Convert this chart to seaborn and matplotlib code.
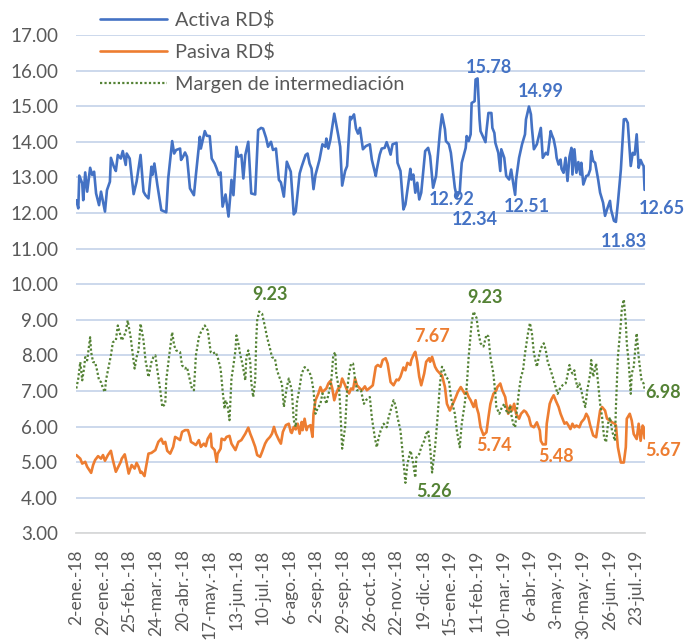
import matplotlib
matplotlib.use("Agg")
import matplotlib.pyplot as plt
import seaborn as sns

sns.set_style("white")
plt.rcParams['font.family'] = ['Lato', 'DejaVu Sans']

# ---- data (x = days since 2-ene-2018) ----
activa_dias = [
    0, 2, 3, 6, 7, 9, 11, 14, 16, 18,
    20, 23, 25, 29, 31, 34, 35, 38, 40, 42,
    45, 47, 50, 51, 54, 58, 61, 65, 68, 70,
    73, 76, 77, 79, 82, 86, 91, 93, 97, 99,
    101, 105, 106, 108, 110, 112, 115, 119, 121, 125,
    126, 130, 132, 135, 137, 140, 142, 144, 146, 148,
    151, 154, 156, 157, 159, 162, 164, 167, 169, 171,
    174, 177, 181, 184, 187, 189, 192, 194, 197, 199,
    202, 205, 207, 210, 213, 217, 220, 222, 226, 228,
    232, 234, 236, 238, 240, 242, 246, 249, 252, 253,
    255, 257, 261, 265, 267, 269, 272, 274, 277, 278,
    281, 283, 285,
    287, 290, 293, 297, 299, 303, 304, 307, 309, 312,
    314, 316, 318, 320, 324, 325, 328, 331, 333, 336,
    338, 339, 341, 343, 345, 347, 349, 353, 356, 358,
    361, 364, 368, 370, 373, 374, 377, 379, 383, 385,
    388, 389, 390, 394, 395, 397, 399, 400, 403, 404,
    406, 408, 409, 414, 415, 417, 420, 421, 423, 424,
    427, 429, 430, 433, 435, 438, 440, 442, 444, 445,
    448, 451, 454, 455, 458, 460, 461, 463, 466, 468,
    470, 472, 475, 477, 480, 481, 483, 485, 486, 488,
    490, 491, 493, 495, 497, 499, 501, 502, 504, 506,
    508, 510, 511, 513, 516, 518, 520, 521, 523, 525,
    528, 530, 533, 535, 537, 540, 541, 544, 546, 548,
    551, 554, 556, 558, 561, 563, 565, 567, 569, 571,
    573, 574, 575,
]
activa_valores = [
    12.36, 12.13, 13.05, 12.83, 12.36, 13.14, 12.60, 13.27, 13.07, 13.16,
    12.55, 12.22, 12.60, 12.04, 12.64, 12.88, 13.55, 13.30, 13.18, 13.63,
    13.53, 13.74, 13.35, 13.67, 13.53, 12.53, 12.88, 13.63, 12.60, 12.50,
    12.41, 13.30, 13.07, 13.39, 12.79, 12.08, 12.02, 12.97, 14.02, 13.67,
    13.77, 13.81, 13.49, 13.58, 13.70, 13.58, 12.69, 12.50, 13.07, 14.14,
    13.81, 14.30, 14.17, 14.16, 13.53, 13.39, 13.25, 13.07, 13.14, 12.18,
    12.52, 11.90, 12.55, 12.93, 12.50, 13.86, 13.58, 13.63, 12.97, 13.63,
    14.00, 12.55, 12.52, 14.33, 14.39, 14.37, 14.11, 13.86, 14.00, 13.77,
    13.81, 12.93, 12.86, 12.46, 13.44, 13.16, 11.96, 12.04, 13.11, 13.30,
    13.63, 13.67, 13.39, 13.25, 12.67, 13.07, 13.49, 13.93, 13.86, 14.09,
    13.81, 14.05, 14.79, 14.19, 13.86, 12.77, 13.18, 13.32, 14.70, 14.63,
    14.77, 14.37, 14.23,
    14.39, 13.79, 13.88, 13.93, 13.50, 13.04, 13.22, 13.64, 13.81, 13.83,
    13.99, 13.83, 13.64, 13.93, 13.97, 13.41, 13.18, 12.10, 12.24, 12.85,
    13.24, 12.94, 13.08, 12.57, 12.85, 12.38, 12.57, 13.74, 13.83, 13.60,
    12.71, 13.04, 14.30, 14.77, 14.35, 14.02, 13.93, 13.69, 12.71, 12.45,
    12.60, 13.04, 13.41, 13.83, 14.16, 14.02, 14.21, 15.09, 15.14, 15.75,
    15.78, 14.63, 14.30, 13.99, 14.30, 14.81, 14.81, 14.39, 14.25, 13.97,
    13.69, 13.18, 13.79, 13.55, 13.04, 12.94, 13.22, 12.85, 12.51, 12.94,
    13.55, 13.93, 14.21, 14.63, 14.99, 14.77, 14.39, 13.79, 13.93, 14.16,
    14.39, 13.55, 13.69, 13.64, 14.30, 14.21, 14.07, 13.79, 13.55, 13.36,
    13.50, 13.24, 13.13, 13.55, 12.90, 13.58, 13.83, 13.08, 13.79, 13.13,
    13.43, 13.08, 13.41, 12.80, 13.04, 13.06, 13.22, 13.74, 13.46, 13.41,
    12.94, 12.57, 12.29, 11.92, 12.10, 12.34, 12.10, 11.78, 11.75, 12.29,
    13.22, 14.63, 14.64, 14.53, 13.32, 13.69, 13.64, 14.21, 13.27, 13.49,
    13.36, 13.32, 12.65,
]

pasiva_dias = [
    0, 4, 6, 9, 11, 15, 17, 19, 22, 25,
    27, 29, 32, 35, 37, 40, 45, 46, 49, 51,
    53, 56, 59, 61, 63, 65, 66, 69, 70, 73,
    76, 80, 83, 86, 88, 90, 92, 95, 98, 100,
    103, 105, 107, 110, 113, 115, 116, 119, 121, 124,
    126, 129, 131, 133, 136, 137, 140, 142, 143, 146,
    147, 150, 152, 155, 157, 159, 161, 164, 167, 169,
    171, 174, 176, 178, 181, 183, 186, 188, 191, 193,
    196, 198, 200, 202, 205, 207, 209, 212, 215, 217,
    218, 220, 222, 224, 226, 228, 229, 231, 233, 234,
    237, 239, 240, 242, 245, 247, 249, 251, 253, 255,
    257, 259, 261, 263, 265, 267, 269, 272, 274, 276,
    278, 280, 282, 284,
    287, 289, 292, 294, 298, 300, 303, 305, 308, 310,
    313, 315, 318, 321, 324, 326, 328, 331, 333, 335,
    338, 339, 342, 343, 345, 347, 349, 352, 354, 357,
    358, 360, 363, 365, 368, 370, 373, 375, 378, 381,
    384, 386, 389, 391, 393, 395, 397, 399, 402, 404,
    405, 407, 409, 412, 415, 417, 419, 422, 425, 426,
    429, 431, 434, 435, 437, 439, 441, 443, 445, 448,
    450, 453, 455, 458, 460, 463, 466, 469, 470, 472,
    475, 476, 479, 481, 483, 485, 488, 490, 492, 494,
    496, 498, 500, 502, 504, 506, 509, 511, 514, 516,
    518, 520, 523, 526, 528, 530, 532, 535, 537, 540,
    542, 545, 546, 548, 551, 554, 556, 557, 560, 562,
    564, 567, 569, 571, 573, 574, 575,
]
pasiva_valores = [
    5.20, 5.10, 4.96, 5.01, 4.87, 4.70, 4.92, 5.06, 5.17, 5.10,
    5.20, 5.04, 5.20, 5.32, 5.06, 4.73, 5.01, 5.10, 5.22, 4.96,
    4.68, 4.92, 4.82, 4.98, 4.87, 4.70, 4.73, 4.61, 4.78, 5.24,
    5.26, 5.34, 5.57, 5.66, 5.52, 5.57, 5.32, 5.24, 5.43, 5.71,
    5.66, 5.62, 5.85, 5.90, 5.90, 5.71, 5.57, 5.52, 5.48, 5.62,
    5.43, 5.52, 5.45, 5.66, 5.80, 5.43, 5.34, 5.01, 5.24, 5.38,
    5.66, 5.62, 5.71, 5.74, 5.52, 5.43, 5.34, 5.57, 5.62, 5.71,
    5.80, 5.97, 5.80, 5.66, 5.43, 5.20, 5.15, 5.29, 5.52, 5.62,
    5.71, 5.80, 5.99, 5.80, 5.62, 5.52, 5.85, 6.04, 6.08, 5.85,
    5.82, 5.99, 5.92, 6.08, 5.80, 6.13, 5.90, 6.22, 5.90, 5.99,
    6.04, 5.71, 6.36, 6.74, 6.93, 7.11, 6.97, 7.02, 7.07, 7.21,
    7.28, 7.07, 6.74, 6.93, 7.07, 7.11, 7.35, 7.16, 7.02, 6.93,
    7.07, 7.04, 7.35, 7.16,
    7.07, 7.02, 7.13, 7.02, 7.11, 7.16, 7.68, 7.73, 7.68, 7.87,
    7.92, 7.77, 7.25, 7.16, 7.32, 7.30, 7.40, 7.66, 7.58, 7.79,
    7.73, 7.87, 8.06, 8.10, 7.82, 7.40, 7.16, 7.49, 7.82, 7.92,
    7.82, 7.96, 7.68, 7.58, 7.49, 7.44, 7.11, 6.64, 6.45, 6.64,
    6.83, 6.97, 7.11, 7.02, 6.92, 6.97, 6.83, 6.74, 6.55, 6.74,
    6.55, 6.36, 5.98, 5.76, 5.84, 6.26, 6.64, 6.92, 7.02, 7.11,
    7.21, 7.02, 6.83, 6.64, 6.36, 6.59, 6.45, 6.64, 6.36, 6.22,
    6.36, 6.45, 6.41, 6.26, 6.03, 5.98, 6.12, 5.89, 5.60, 5.50,
    5.50, 6.08, 6.64, 6.78, 6.88, 6.74, 6.55, 6.36, 6.22, 6.08,
    6.12, 6.03, 5.93, 6.08, 5.98, 6.03, 5.98, 6.12, 6.22, 6.36,
    6.26, 6.03, 5.75, 5.70, 6.08, 6.45, 6.55, 6.45, 6.22, 6.17,
    6.12, 6.08, 6.03, 5.42, 4.99, 4.99, 5.42, 6.22, 6.36, 6.17,
    5.79, 5.65, 6.08, 5.60, 6.03, 5.98, 5.67,
]

margen_dias = [
    0, 2, 4, 6, 8, 9, 11, 14, 15, 17,
    19, 21, 23, 25, 27, 29, 30, 32, 35, 37,
    40, 42, 46, 50, 52, 55, 57, 59, 61, 63,
    65, 68, 70, 71, 73, 76, 78, 80, 82, 85,
    87, 90, 91, 94, 97, 99, 101, 105, 107, 110,
    112, 115, 117, 119, 121, 124, 126, 130, 133, 136,
    138, 141, 143, 146, 148, 150, 151, 153, 155, 157,
    159, 161, 162, 164, 166, 168, 171, 172, 174, 176,
    177, 179, 181, 182, 183, 185, 188, 191, 193, 196,
    198, 201, 203, 206, 208, 210, 213, 215, 218, 220,
    222, 223, 226, 228, 231, 233, 236, 238, 240, 242,
    244, 247, 249, 251, 253, 256, 258, 260, 262, 263,
    266, 267, 269, 272, 274, 276, 278, 280, 282, 284,
    288, 291, 293, 297, 299, 302, 304, 306, 308, 311,
    314, 316, 318, 321, 323, 325, 328, 330, 332, 333,
    335, 338, 339, 341, 343, 344, 347, 349, 352, 354,
    356, 358, 360, 363, 365, 368, 370, 372, 374, 377,
    379, 383, 385, 388, 390, 393, 395, 397, 400, 402,
    405, 407, 409, 412, 415, 417, 419, 422, 424, 425,
    428, 430, 433, 435, 437, 439, 440, 442, 444, 445,
    448, 450, 452, 454, 457, 459, 461, 463, 466, 468,
    470, 473, 475, 477, 480, 482, 485, 487, 490, 492,
    495, 496, 499, 500, 502, 504, 505, 507, 509, 511,
    513, 515, 517, 520, 521, 523, 526, 528, 530, 532,
    534, 536, 538, 540, 542, 545, 546, 548, 551, 552,
    554, 556, 557, 559, 561, 562, 564, 566, 567, 569,
    571, 572, 574, 575,
]
margen_valores = [
    7.07, 7.35, 7.81, 7.30, 7.67, 7.95, 7.86, 8.51, 8.09, 7.81,
    7.81, 7.58, 7.30, 7.25, 7.07, 6.97, 7.30, 7.58, 8.00, 8.37,
    8.42, 8.84, 8.42, 8.65, 8.98, 8.51, 8.05, 7.63, 7.95, 8.14,
    8.89, 8.42, 7.86, 7.72, 7.39, 7.81, 7.95, 8.00, 7.58, 7.02,
    6.55, 6.64, 7.30, 8.00, 8.65, 8.28, 8.14, 8.09, 7.72, 7.63,
    7.67, 7.30, 7.07, 7.02, 8.00, 8.51, 8.65, 8.84, 8.70, 8.09,
    8.05, 8.09, 7.95, 7.63, 7.02, 6.50, 6.74, 6.60, 6.18, 7.35,
    7.72, 8.14, 8.56, 8.33, 8.00, 7.77, 7.30, 7.95, 8.14, 7.81,
    7.25, 6.83, 7.30, 8.42, 8.98, 9.23, 9.17, 8.79, 8.51, 8.19,
    7.95, 7.91, 7.58, 7.35, 7.21, 6.55, 7.11, 7.35, 7.02, 6.18,
    5.99, 6.64, 7.11, 7.49, 7.67, 7.63, 7.53, 7.35, 7.02, 6.36,
    6.50, 6.64, 6.93, 6.83, 6.64, 7.02, 7.30, 8.00, 8.09, 7.49,
    7.02, 6.55, 5.38, 5.99, 7.02, 7.49, 7.77, 7.77, 7.35, 7.02,
    7.02, 6.64, 6.74, 6.83, 6.26, 5.70, 5.42, 5.70, 5.89, 6.08,
    5.98, 6.26, 6.45, 6.74, 6.59, 6.26, 5.89, 5.32, 4.71, 4.42,
    4.94, 5.32, 5.23, 4.94, 4.57, 5.13, 5.23, 5.42, 5.60, 5.79,
    5.89, 5.42, 4.71, 5.42, 6.08, 7.21, 7.68, 7.58, 7.40, 7.30,
    6.83, 6.36, 5.89, 5.42, 6.08, 6.64, 7.11, 7.96, 8.91, 9.23,
    9.05, 8.62, 8.34, 8.25, 8.58, 8.53, 7.96, 7.49, 6.92, 6.55,
    6.36, 6.50, 6.64, 6.45, 6.36, 6.59, 6.36, 6.08, 5.98, 6.26,
    7.02, 7.40, 7.58, 8.06, 8.62, 8.91, 8.62, 8.06, 7.68, 7.96,
    8.20, 8.34, 8.15, 7.82, 7.58, 7.40, 7.11, 6.92, 7.11, 7.16,
    7.21, 7.30, 7.73, 7.58, 7.49, 7.58, 7.35, 7.11, 7.21, 7.02,
    6.74, 6.55, 7.02, 7.49, 7.87, 7.40, 7.77, 7.21, 6.64, 6.26,
    5.70, 5.56, 6.08, 6.26, 5.89, 5.60, 6.55, 7.96, 8.91, 9.33,
    9.57, 8.91, 8.34, 7.77, 6.92, 7.49, 7.68, 8.29, 8.62, 7.96,
    7.49, 7.30, 7.21, 7.05,
]

xtick_dias = [0, 27, 54, 81, 108, 135, 162, 189, 216, 243, 270,
              297, 324, 351, 378, 405, 432, 459, 486, 513, 540, 567]
xtick_etiquetas = ["2-ene.-18", "29-ene.-18", "25-feb.-18", "24-mar.-18",
                   "20-abr.-18", "17-may.-18", "13-jun.-18", "10-jul.-18",
                   "6-ago.-18", "2-sep.-18", "29-sep.-18", "26-oct.-18",
                   "22-nov.-18", "19-dic.-18", "15-ene.-19", "11-feb.-19",
                   "10-mar.-19", "6-abr.-19", "3-may.-19", "30-may.-19",
                   "26-jun.-19", "23-jul.-19"]

series_nombres = ["Activa RD$", "Pasiva RD$", "Margen de intermediación"]

# data labels: text, x-day, y-value, series index
etiquetas_texto = ["15.78", "14.99", "12.92", "12.34", "12.51", "11.83", "12.65",
                   "9.23", "9.23", "7.67", "5.26", "5.74", "5.48", "6.98", "5.67"]
etiquetas_x = [418, 470, 380, 403, 456, 554, 593,
               196, 414, 360, 362, 423, 485, 594, 594]
etiquetas_y = [16.09, 15.41, 12.37, 11.82, 12.18, 11.19, 12.13,
               9.72, 9.64, 8.53, 4.18, 5.46, 5.17, 6.96, 5.34]
etiquetas_serie = [0, 0, 0, 0, 0, 0, 0, 2, 2, 1, 2, 1, 1, 2, 1]

# ---- style ----
AZUL = "#4472C4"
NARANJA = "#ED7D31"
VERDE = "#548235"
GRIS_TXT = "#595959"
colores = [AZUL, NARANJA, VERDE]

fig = plt.figure(figsize=(6.85, 6.41), dpi=100)
ax = fig.add_axes([0.1114, 0.1679, 0.8296, 0.7775])

sns.lineplot(x=activa_dias, y=activa_valores, ax=ax, color=AZUL, lw=1.9,
             estimator=None, sort=False, label=series_nombres[0])
sns.lineplot(x=pasiva_dias, y=pasiva_valores, ax=ax, color=NARANJA, lw=1.9,
             estimator=None, sort=False, label=series_nombres[1])
sns.lineplot(x=margen_dias, y=margen_valores, ax=ax, color=VERDE, lw=1.6,
             estimator=None, sort=False, label=series_nombres[2],
             linestyle=(0, (1, 1)))

ax.set_xlim(0, 575)
ax.set_ylim(3, 17)
ax.set_yticks(list(range(3, 18)))
ax.set_yticklabels([f"{v:.2f}" for v in range(3, 18)])
ax.set_xticks(xtick_dias)
ax.set_xticklabels(xtick_etiquetas)
ax.set_xlabel("")
ax.set_ylabel("")

ax.yaxis.grid(True, color="#C8D5EA", lw=1.3)
ax.xaxis.grid(False)
ax.set_axisbelow(True)
for s in ["left", "right", "top"]:
    ax.spines[s].set_visible(False)
ax.spines["bottom"].set_color("#D9D9D9")
ax.spines["bottom"].set_linewidth(1.3)

ax.tick_params(axis="x", length=3.6, width=1.2, color="#D9D9D9", pad=8,
               labelsize=12.5, labelcolor=GRIS_TXT, rotation=90, direction="out")
ax.tick_params(axis="y", length=0, pad=13, labelsize=13.5, labelcolor=GRIS_TXT)

for t, x, y, s in zip(etiquetas_texto, etiquetas_x, etiquetas_y, etiquetas_serie):
    ax.text(x, y, t, color=colores[s], fontsize=13, fontweight="bold",
            ha="center", va="center", clip_on=False)

ax.legend(loc="upper left", bbox_to_anchor=(0.1454, 0.9835),
          bbox_transform=fig.transFigure, frameon=False, fontsize=14.3,
          handlelength=3.4, handletextpad=0.38, labelspacing=0.74,
          borderpad=0, borderaxespad=0, labelcolor=GRIS_TXT)

fig.savefig("out.png", dpi=100)
